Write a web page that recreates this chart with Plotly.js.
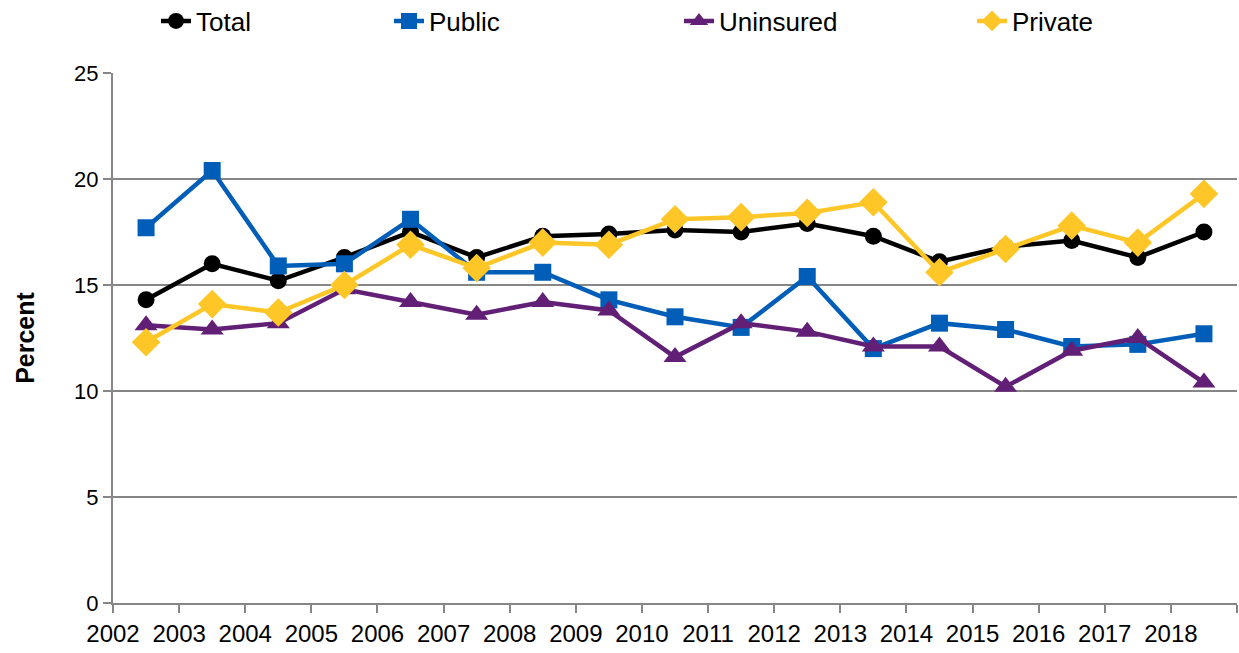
<!DOCTYPE html>
<html>
<head>
<meta charset="utf-8">
<script src="https://cdn.plot.ly/plotly-3.0.1.min.js"></script>
<style>html,body{margin:0;padding:0;background:#fff;}#chart{width:1239px;height:653px;}</style>
</head>
<body>
<div id="chart"></div>
<script>
var years = ["2002","2003","2004","2005","2006","2007","2008","2009","2010","2011","2012","2013","2014","2015","2016","2017","2018"];
var total     = [14.3, 16.0, 15.2, 16.3, 17.5, 16.3, 17.3, 17.4, 17.6, 17.5, 17.9, 17.3, 16.1, 16.8, 17.1, 16.3, 17.5];
var publicIns = [17.7, 20.4, 15.9, 16.0, 18.1, 15.6, 15.6, 14.3, 13.5, 13.0, 15.4, 12.0, 13.2, 12.9, 12.1, 12.2, 12.7];
var uninsured = [13.1, 12.9, 13.2, 14.8, 14.2, 13.6, 14.2, 13.8, 11.6, 13.2, 12.8, 12.1, 12.1, 10.2, 11.9, 12.5, 10.4];
var privateIns= [12.3, 14.1, 13.7, 15.0, 16.9, 15.8, 17.0, 16.9, 18.1, 18.2, 18.4, 18.9, 15.6, 16.7, 17.8, 17.0, 19.3];
var yTicks = [0, 5, 10, 15, 20, 25];

var xs = years.map(function(_, i){ return i + 0.5; });
var tickPos = years.map(function(_, i){ return i; }).concat([years.length]);
var tickTxt = years.concat([""]);

var FONT = "Liberation Sans, Arial, sans-serif";

function tr(name, y, color, symbol, size, legend) {
  return {
    x: xs, y: y, name: name, type: "scatter", mode: "lines+markers",
    line: {color: color, width: 4.5},
    marker: {color: color, symbol: symbol, size: size},
    legend: legend, cliponaxis: false
  };
}
var data = [
  tr("Total", total, "#000000", "circle", 17, "legend"),
  tr("Public", publicIns, "#005EB8", "square", 17, "legend2"),
  tr("Uninsured", uninsured, "#621F76", "triangle-up", 20, "legend3"),
  tr("Private", privateIns, "#FFC627", "diamond", 22, "legend4")
];

function leg(px) {
  return {x: (px - 113) / 1124, y: 1.098, xanchor: "left", yanchor: "middle",
          orientation: "h", font: {family: FONT, size: 26, color: "#000"},
          bgcolor: "rgba(0,0,0,0)", itemwidth: 30, tracegroupgap: 0};
}

var layout = {
  width: 1239, height: 653,
  margin: {l: 113, r: 2, t: 73, b: 50, autoexpand: false},
  paper_bgcolor: "#fff", plot_bgcolor: "#fff",
  font: {family: FONT, size: 22, color: "#000"},
  xaxis: {
    range: [0, years.length], tickmode: "array", tickvals: tickPos, ticktext: tickTxt,
    showgrid: false, zeroline: false, showline: true, linecolor: "#868686", linewidth: 2,
    ticks: "outside", ticklen: 8, tickwidth: 2, tickcolor: "#868686",
    tickfont: {family: FONT, size: 24, color: "#000"}, fixedrange: true
  },
  yaxis: {
    range: [0, 25], tickmode: "array", tickvals: yTicks,
    showgrid: true, gridcolor: "#868686", gridwidth: 2, zeroline: false,
    showline: true, linecolor: "#868686", linewidth: 2,
    ticks: "outside", ticklen: 8, tickwidth: 2, tickcolor: "#868686",
    tickfont: {family: FONT, size: 22, color: "#000"},
    title: {text: "<b>Percent</b>", font: {family: FONT, size: 25, color: "#000"}, standoff: 32},
    fixedrange: true
  },
  legend: leg(156),
  legend2: leg(389),
  legend3: leg(679),
  legend4: leg(972),
  showlegend: true
};
Plotly.newPlot("chart", data, layout, {displayModeBar: false, staticPlot: true});
</script>
</body>
</html>
